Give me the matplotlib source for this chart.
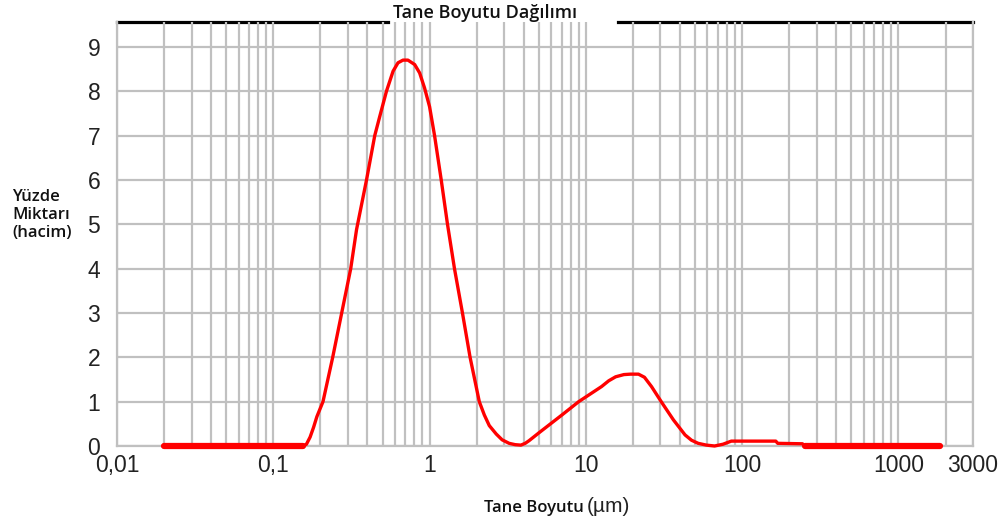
import numpy as np
import matplotlib.pyplot as plt
from matplotlib.ticker import LogLocator, NullFormatter

# Tane boyutu (um) ve hacimce yuzde miktar
size_um = [0.02, 0.05, 0.155, 0.163, 0.172, 0.181, 0.19, 0.208, 0.24, 0.274,
           0.313, 0.341, 0.395, 0.446, 0.48, 0.53, 0.584, 0.628, 0.676, 0.727,
           0.803, 0.864, 0.929, 1.0, 1.076, 1.187, 1.302, 1.443, 1.623, 1.816,
           2.08, 2.24, 2.41, 2.67, 2.91, 3.23, 3.53, 3.84, 4.09, 4.33,
           5.02, 7.03, 9.0, 12.6, 14.0, 15.5, 17.5, 19.3, 21.7, 23.7,
           26.3, 30.6, 36.3, 43.1, 47.4, 52.3, 59.0, 66.6, 75.4, 85.2,
           164, 169, 243, 251, 1850]
volume_pct = [0, 0, 0, 0.04, 0.2, 0.42, 0.66, 1.0, 2.0, 3.0,
              4.0, 4.88, 6.0, 7.0, 7.43, 8.0, 8.45, 8.64, 8.70, 8.70,
              8.60, 8.41, 8.07, 7.65, 7.0, 6.0, 5.0, 4.0, 3.0, 2.0,
              1.0, 0.7, 0.46, 0.27, 0.14, 0.06, 0.03, 0.02, 0.06, 0.12,
              0.3, 0.7, 1.0, 1.34, 1.47, 1.56, 1.61, 1.62, 1.62, 1.55,
              1.34, 0.98, 0.59, 0.25, 0.13, 0.06, 0.02, 0.0, 0.04, 0.11,
              0.11, 0.06, 0.05, 0, 0]

y_ticks = list(range(10))
x_ticks = [0.01, 0.1, 1, 10, 100, 1000, 3000]
x_tick_labels = ['0,01', '0,1', '1', '10', '100', '1000', '3000']

grid_color = '#c0c0c0'
red = '#ff0000'
num_font = ['Liberation Sans', 'DejaVu Sans']

fig = plt.figure(figsize=(10.05, 5.27), dpi=100)
ax = fig.add_axes([0.1164, 0.1537, 0.8518, 0.8046])
ax.set_xscale('log')
ax.set_xlim(0.01, 3000)
ax.set_ylim(0, 9.56)

ax.xaxis.set_minor_locator(LogLocator(base=10, subs=range(2, 10), numticks=50))
ax.xaxis.set_minor_formatter(NullFormatter())
ax.set_xticks(x_ticks, x_tick_labels)
ax.set_yticks(y_ticks)
ax.tick_params(which='both', length=0)
ax.tick_params(axis='x', pad=6)
ax.tick_params(axis='y', pad=12)
for lab in ax.get_xticklabels() + ax.get_yticklabels():
    lab.set_family(num_font)
    lab.set_fontsize(16.5)
    lab.set_color('#222222')

ax.set_axisbelow(True)
ax.grid(which='both', axis='x', color=grid_color, lw=1.6)
ax.grid(which='major', axis='y', color=grid_color, lw=1.6)
for side in ['left', 'bottom', 'right']:
    ax.spines[side].set_color(grid_color)
    ax.spines[side].set_linewidth(1.6)
    ax.spines[side].set_zorder(0.6)
ax.spines['top'].set_visible(False)

# ustteki siyah cizgi, baslik icin bosluklu
ax.plot([0, 0.317], [1, 1], transform=ax.transAxes, color='black', lw=2.3,
        clip_on=False, zorder=0.4)
ax.plot([0.585, 1], [1, 1], transform=ax.transAxes, color='black', lw=2.3,
        clip_on=False, zorder=0.4)

x = np.array(size_um)
y = np.array(volume_pct)
ax.plot(x, y, color=red, lw=2.4, zorder=3, clip_on=False,
        solid_joinstyle='round')
y_zero = np.where(y == 0, 0.0, np.nan)
ax.plot(x, y_zero, color=red, lw=4.5, zorder=3, clip_on=False,
        solid_capstyle='round')

fig.text(393 / 1005, 1 - 13 / 527, 'Tane Boyutu Dağılımı', ha='left', va='center',
         fontsize=13, family='Open Sans', weight='semibold', color='#111111')

fig.text(12 / 1005, 1 - 215 / 527, 'Yüzde\nMiktarı\n(hacim)', ha='left', va='center',
         fontsize=12, family='Open Sans', weight='semibold', color='#111111',
         linespacing=1.2)

fig.text(484 / 1005, 1 - 512 / 527, 'Tane Boyutu', ha='left', va='baseline',
         fontsize=12, family='Open Sans', weight='semibold', color='#111111')
fig.text(587 / 1005, 1 - 512 / 527, '(µm)', ha='left', va='baseline',
         fontsize=15, family=['Liberation Sans', 'DejaVu Sans'], color='#222222')

fig.savefig('out.png', dpi=100)
